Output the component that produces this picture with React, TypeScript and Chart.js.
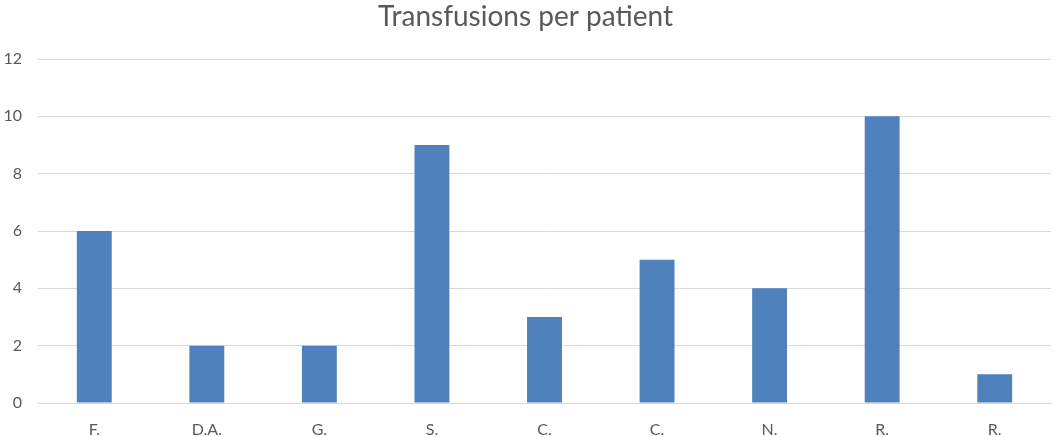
import React, { useEffect, useRef } from "react";
import { Chart, registerables } from "chart.js";

Chart.register(...registerables);

const categories = ["F.", "D.A.", "G.", "S.", "C.", "C.", "N.", "R.", "R."];
const transfusions = [6, 2, 2, 9, 3, 5, 4, 10, 1];
const titleText = "Transfusions per patient";
const yMin = 0;
const yMax = 12;
const yStep = 2;

export default function App() {
  const ref = useRef<HTMLCanvasElement | null>(null);
  useEffect(() => {
    document.body.style.margin = "0";
    if (!ref.current) return;
    const chart = new Chart(ref.current, {
      type: "bar",
      data: {
        labels: categories,
        datasets: [
          {
            label: "Transfusions",
            data: transfusions,
            backgroundColor: "#4F81BD",
            barPercentage: 0.31,
            categoryPercentage: 1,
          },
        ],
      },
      options: {
        animation: false,
        responsive: false,
        maintainAspectRatio: false,
        layout: { padding: { left: 0, right: 2, top: 0, bottom: 0 } },
        plugins: {
          legend: { display: false },
          tooltip: { enabled: false },
          title: {
            display: true,
            text: titleText,
            color: "#595959",
            font: { family: "Lato", size: 28, weight: "normal", lineHeight: 1.2 },
            padding: { top: 0, bottom: 25.4 },
          },
        },
        scales: {
          x: {
            grid: { display: false, drawTicks: false },
            border: { display: true, color: "#D9D9D9" },
            ticks: {
              color: "#595959",
              font: { family: "Lato", size: 16 },
              padding: 17,
              autoSkip: false,
              maxRotation: 0,
            },
            afterFit: (scale: any) => {
              scale.height = 34;
            },
          },
          y: {
            min: yMin,
            max: yMax,
            grid: { color: "#D9D9D9", drawTicks: false },
            border: { display: false },
            ticks: {
              stepSize: yStep,
              color: "#595959",
              font: { family: "Lato", size: 16 },
              padding: 16,
            },
            afterFit: (scale: any) => {
              scale.width = 38;
            },
          },
        },
      },
    });
    return () => chart.destroy();
  }, []);
  return (
    <div style={{ width: 1053, height: 437 }}>
      <canvas ref={ref} width={1053} height={437} style={{ display: "block" }} />
    </div>
  );
}
